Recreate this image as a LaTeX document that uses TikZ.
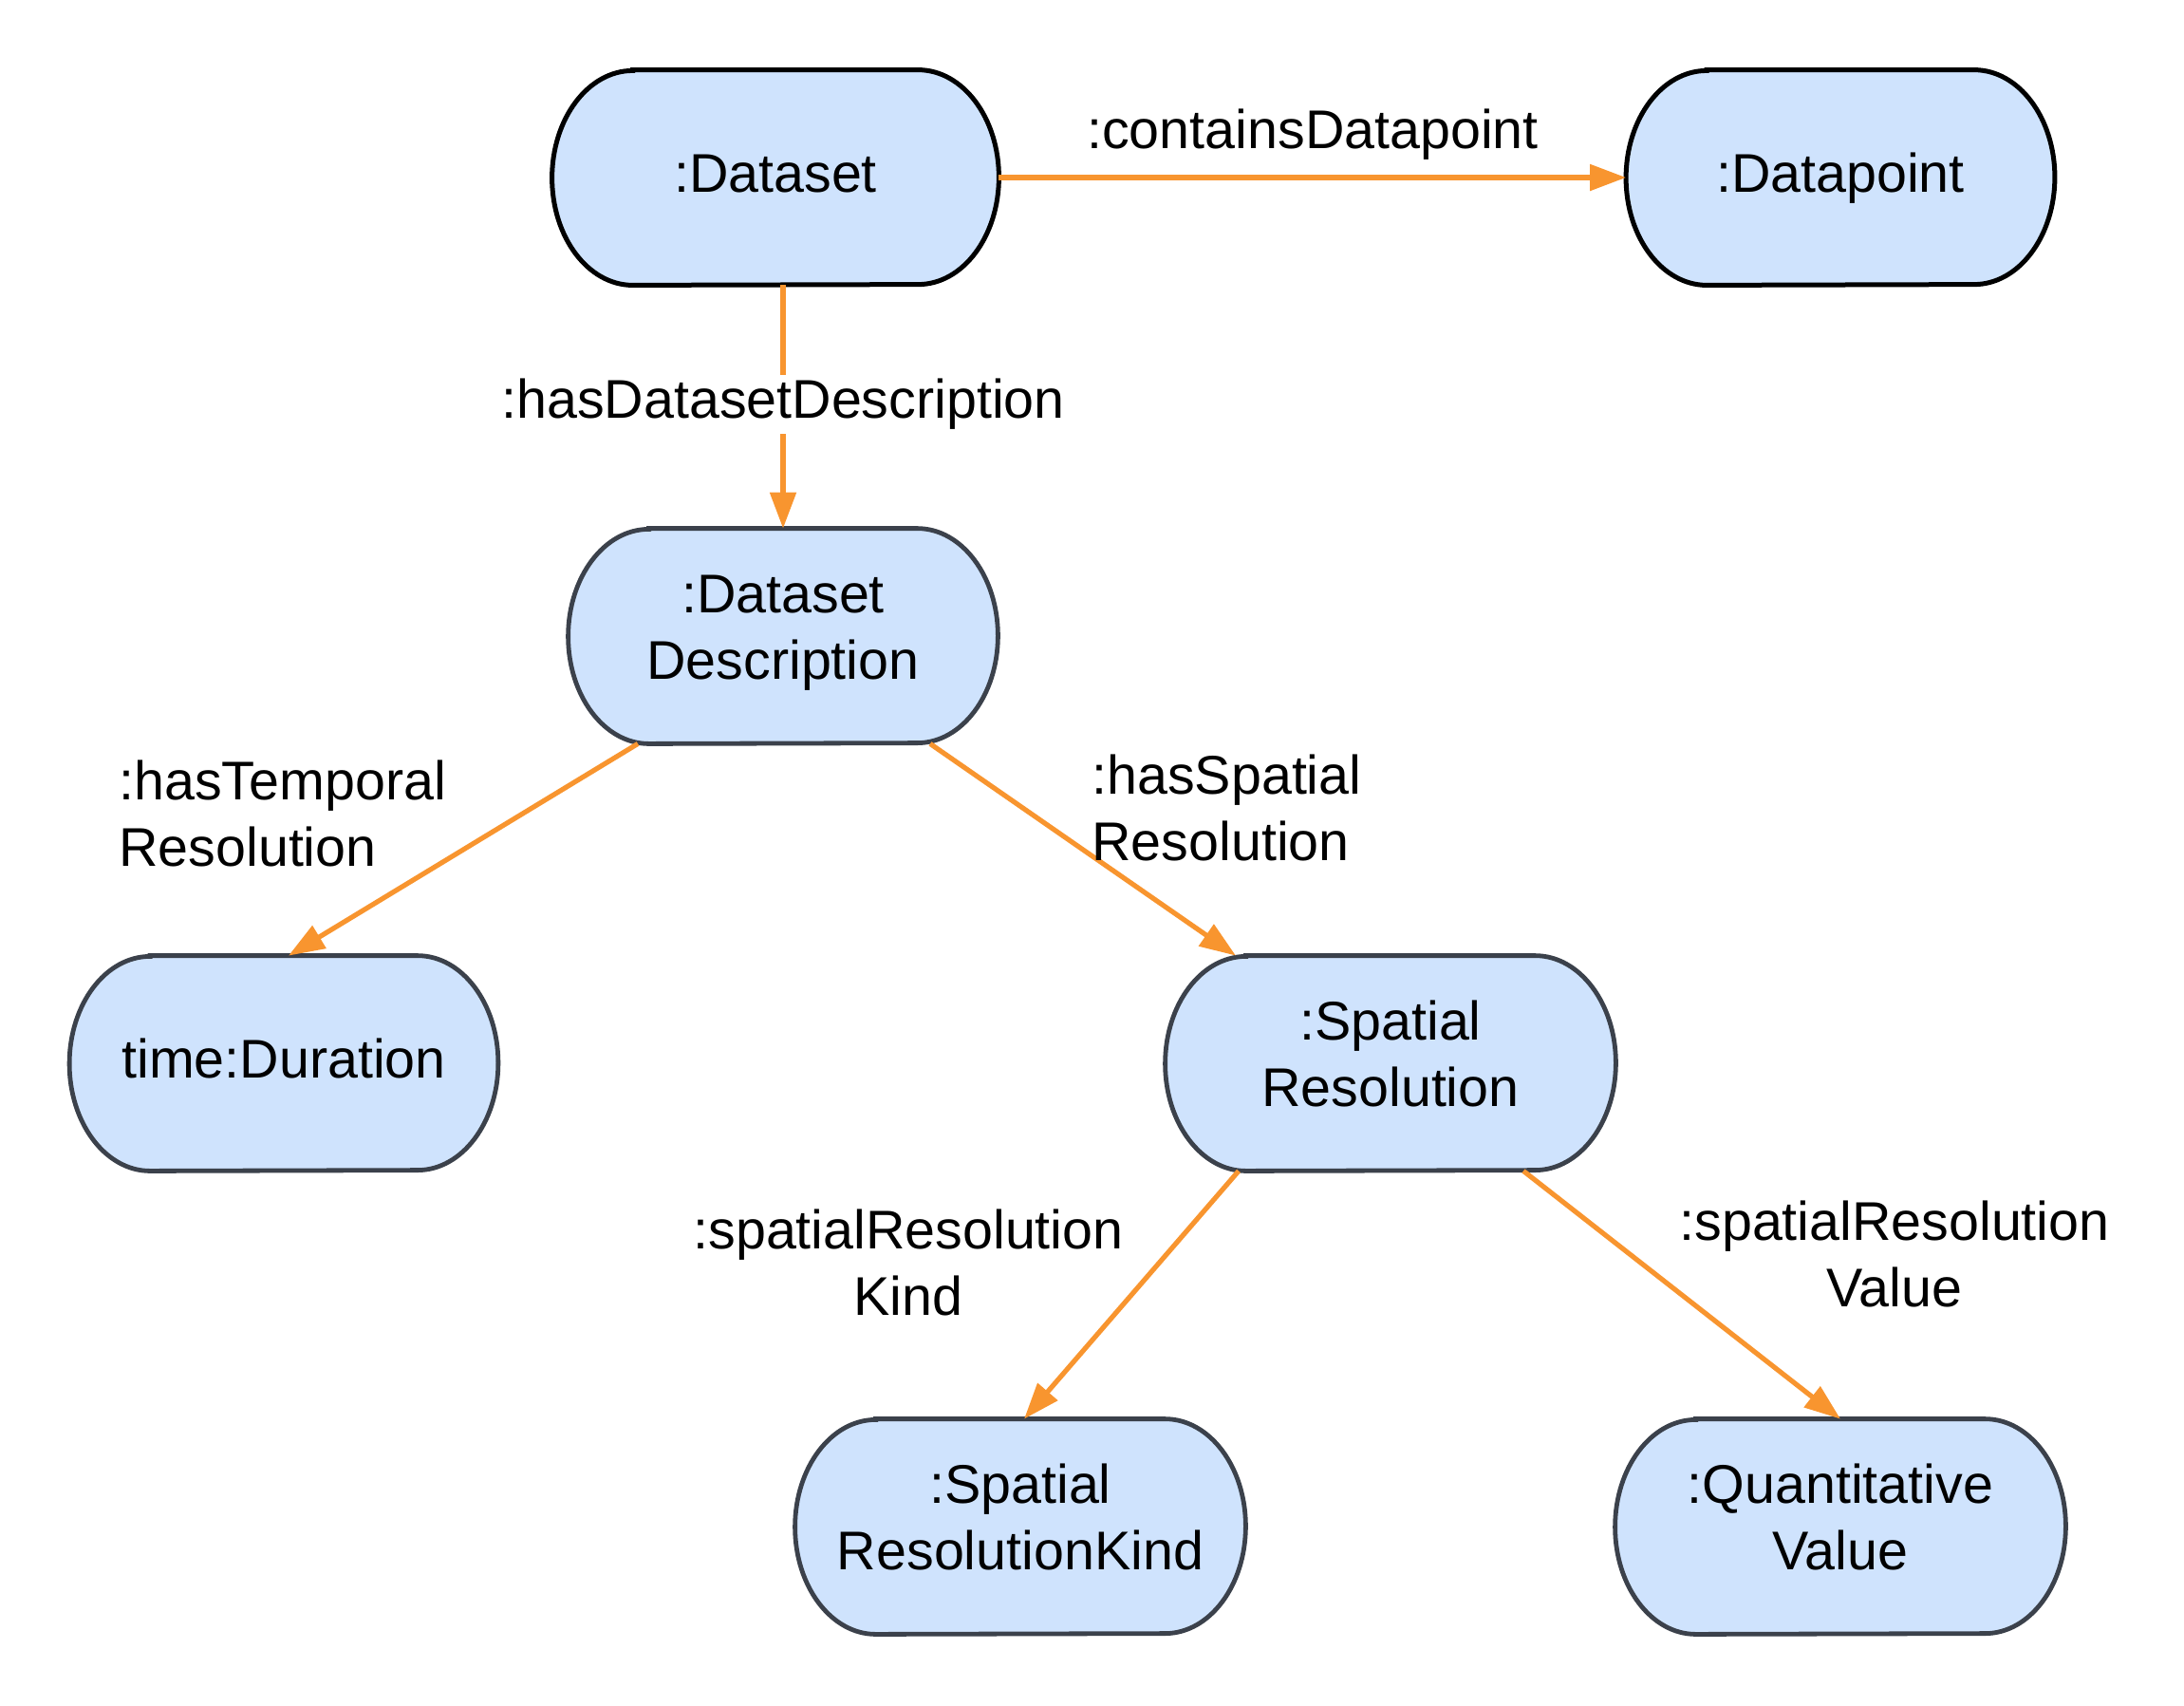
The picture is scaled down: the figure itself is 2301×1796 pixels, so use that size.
\documentclass[tikz,border=0pt]{standalone}
\usepackage{fontspec}
\setmainfont{Liberation Sans}
\usetikzlibrary{calc,backgrounds,arrows.meta}
\definecolor{nodefill}{HTML}{CFE3FD}
\definecolor{edgeorange}{HTML}{F8952F}
\definecolor{bordergray}{HTML}{3B414B}
\newcommand{\pillpath}[3]{%
  \path[#3] ($(#1.north west)+(#2,0pt)$) -- ($(#1.north east)+(-#2,0pt)$)
    arc[start angle=90,end angle=-90,x radius=#2,y radius=56.5pt]
    -- ($(#1.south west)+(#2,0pt)$)
    arc[start angle=270,end angle=90,x radius=#2,y radius=56.5pt] -- cycle;}
\begin{document}
\begin{tikzpicture}[x=0.5pt,y=-0.5pt,
  every node/.style={font=\fontsize{28.7}{35}\selectfont},
  box/.style={rectangle,minimum height=113pt,inner sep=0pt,align=center},
  oneline/.style={box,text height=21pt,text depth=6pt},
  twoline/.style={box,text height=56pt,text depth=11pt},
  rel/.style={draw=edgeorange,line width=2.6pt,-{Triangle[length=19pt,width=13.5pt]}},
  lbl/.style={inner sep=2pt}]
\useasboundingbox (0,0) rectangle (2301,1796);
% nodes
\node[oneline,minimum width=235pt] (ds) at (817,187) {:Dataset};
\node[oneline,minimum width=225.5pt] (dp) at (1939,187) {:Datapoint};
\node[twoline,minimum width=226pt] (dd) at (825,670) {:Dataset\\Description};
\node[oneline,minimum width=225.5pt] (dur) at (299,1120) {time:Duration};
\node[twoline,minimum width=237pt] (sr) at (1465,1120) {:Spatial\\Resolution};
\node[twoline,minimum width=237pt] (srk) at (1075,1608) {:Spatial\\ResolutionKind};
\node[twoline,minimum width=237pt] (qv) at (1939,1608) {:Quantitative\\Value};
% shapes
\begin{scope}[on background layer]
\pillpath{ds}{42.5pt}{fill=nodefill,draw=black,line width=2.5pt}
\pillpath{dp}{42.5pt}{fill=nodefill,draw=black,line width=2.5pt}
\foreach \n in {dd,dur,sr,srk,qv}{\pillpath{\n}{42.5pt}{fill=nodefill,draw=bordergray,line width=2.4pt}}
\end{scope}
% edges
\draw[rel] (ds.east) -- (dp.west);
\node[lbl] (lcd) at (1383,142) {:containsDatapoint};
\draw[rel] (dd.north |- ds.south) -- (dd.north);
\node[lbl,fill=white] (lhd) at (825,426) {:hasDatasetDescription};
\draw[rel] ($(dd.south)+(-153,0)$) -- ($(dur.north)+(5,0)$);
\node[lbl,align=left,anchor=west] (lht) at (121,857) {:hasTemporal\\Resolution};
\draw[rel] ($(dd.south)+(155,0)$) -- ($(sr.north)+(-163,0)$);
\node[lbl,align=left,anchor=west] (lhs) at (1146,851) {:hasSpatial\\Resolution};
\draw[rel] ($(sr.south)+(-160,0)$) -- ($(srk.north)+(4,0)$);
\node[lbl,align=center] (lsk) at (957,1330) {:spatialResolution\\Kind};
\draw[rel] ($(sr.south)+(140,0)$) -- (qv.north);
\node[lbl,align=center] (lsv) at (1996,1321) {:spatialResolution\\Value};
\end{tikzpicture}
\end{document}
